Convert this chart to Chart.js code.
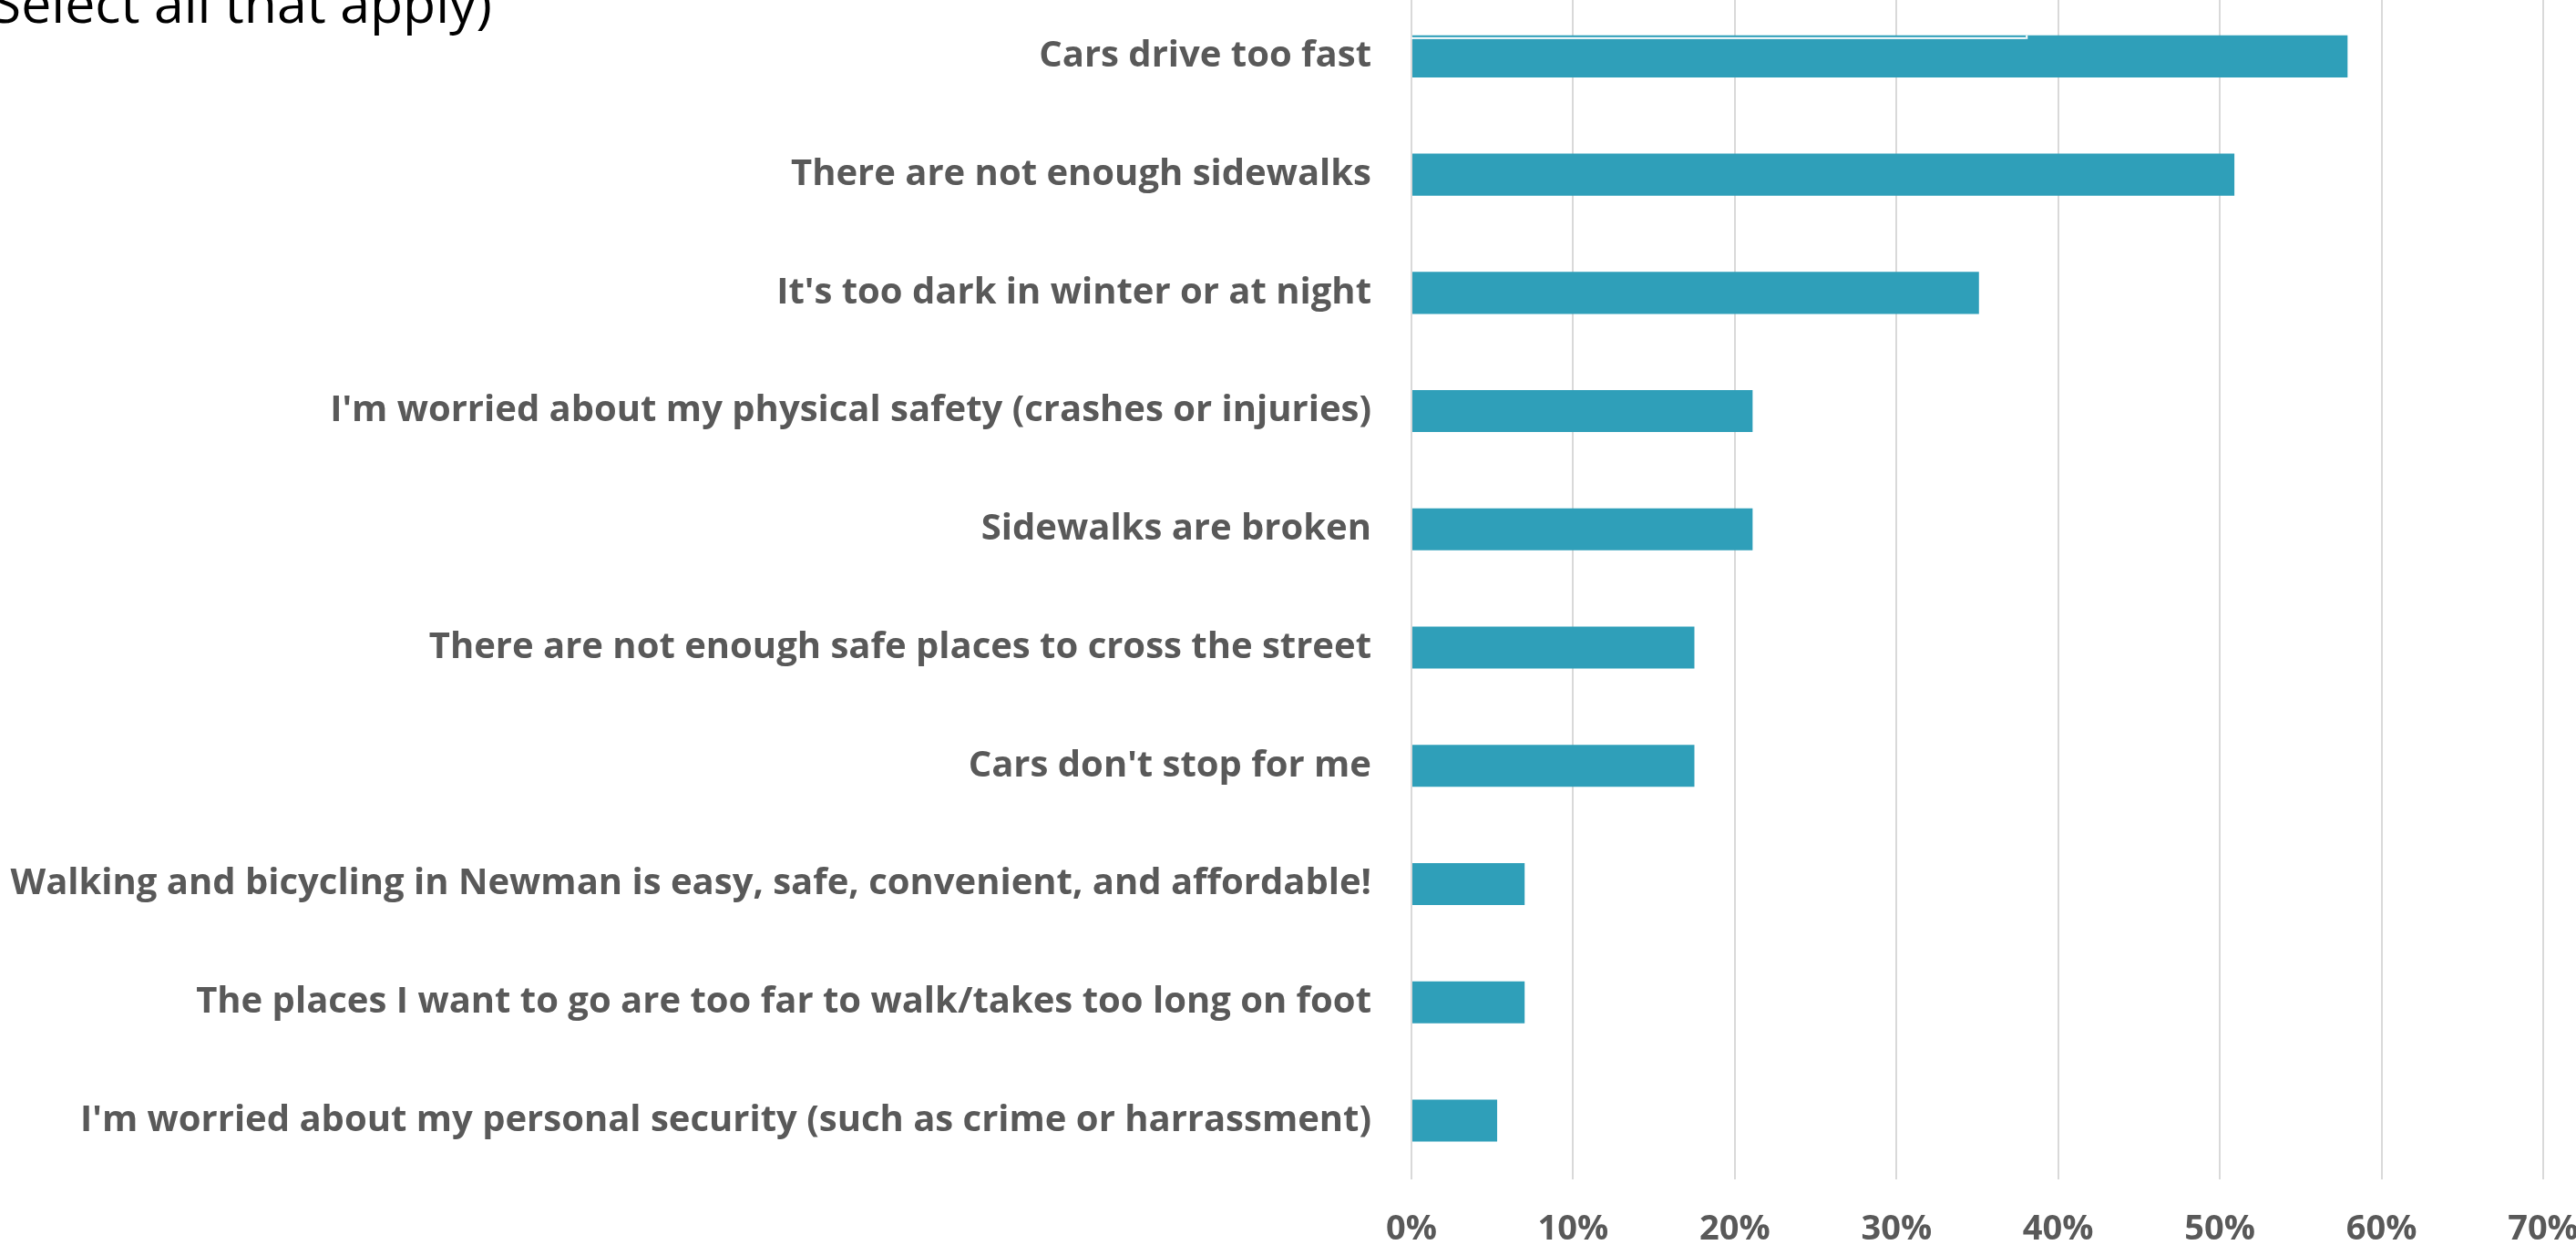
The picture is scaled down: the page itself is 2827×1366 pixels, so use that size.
<!DOCTYPE html>
<html>
<head>
<meta charset="utf-8">
<script src="https://cdn.jsdelivr.net/npm/chart.js@4.4.1/dist/chart.umd.min.js"></script>
<style>
    html, body { margin: 0; padding: 0; background: #fff; overflow: hidden; }
    body { width: 2827px; height: 1366px; position: relative; }
    #chart { position: absolute; left: 0; top: -3px; }
</style>
</head>
<body>
<canvas id="chart" width="2827" height="1375"></canvas>
<script>
// Survey answers, top to bottom
var categories = [
    'Cars drive too fast',
    'There are not enough sidewalks',
    "It's too dark in winter or at night",
    "I'm worried about my physical safety (crashes or injuries)",
    'Sidewalks are broken',
    'There are not enough safe places to cross the street',
    "Cars don't stop for me",
    'Walking and bicycling in Newman is easy, safe, convenient, and affordable!',
    'The places I want to go are too far to walk/takes too long on foot',
    "I'm worried about my personal security (such as crime or harrassment)"
];
var shares = [57.9, 50.9, 35.1, 21.1, 21.1, 17.5, 17.5, 7.0, 7.0, 5.3];
var tickValues = [0, 10, 20, 30, 40, 50, 60, 70];
var titleText = '(Select all that apply)';
// leftover line across the top bar in the original picture
var overlapEnd = 38;

document.addEventListener('DOMContentLoaded', function() {
    var grey = '#595959';
    var teal = '#2f9fb9';

    // clipped title line in the top-left corner
    var titlePlugin = {
        id: 'cutTitle',
        afterDraw: function(chart) {
            var ctx = chart.ctx;
            ctx.save();
            ctx.font = '59px "Open Sans"';
            ctx.fillStyle = '#000';
            ctx.textAlign = 'right';
            ctx.textBaseline = 'alphabetic';
            ctx.fillText(titleText, 540, 28);
            ctx.restore();
        }
    };

    // thin white split along the top of the first bar
    var overlapPlugin = {
        id: 'overlap',
        afterDatasetsDraw: function(chart) {
            var bar = chart.getDatasetMeta(0).data[0];
            var x = chart.scales.x;
            var top = bar.y - bar.height / 2;
            var x0 = x.getPixelForValue(0);
            var x1 = x.getPixelForValue(overlapEnd);
            var ctx = chart.ctx;
            ctx.save();
            ctx.fillStyle = '#fff';
            ctx.fillRect(x0, top + 2, x1 - x0, 2);
            ctx.fillRect(x1, top, 2, 4);
            ctx.restore();
        }
    };

    var ctx = document.getElementById('chart').getContext('2d');
    new Chart(ctx, {
        type: 'bar',
        data: {
            labels: categories,
            datasets: [{
                data: shares,
                backgroundColor: teal,
                borderWidth: 0,
                categoryPercentage: 1,
                barPercentage: 0.355
            }]
        },
        options: {
            indexAxis: 'y',
            responsive: false,
            animation: false,
            devicePixelRatio: 1,
            layout: { padding: 0 },
            plugins: {
                legend: { display: false },
                tooltip: { enabled: false }
            },
            scales: {
                x: {
                    min: 0,
                    max: 70,
                    afterBuildTicks: function(scale) {
                        scale.ticks = tickValues.map(function(v) { return { value: v }; });
                    },
                    afterFit: function(scale) {
                        scale.paddingLeft = 0;
                        scale.paddingRight = 36;
                    },
                    grid: { color: '#d9d9d9', lineWidth: 2, drawTicks: true, tickLength: 32, tickColor: 'rgba(0,0,0,0)' },
                    border: { display: false },
                    ticks: {
                        padding: 0,
                        color: grey,
                        font: { family: '"Open Sans"', size: 38, weight: 'bold' },
                        callback: function(v) { return v + '%'; }
                    }
                },
                y: {
                    afterFit: function(scale) {
                        scale.width = 1549;
                        scale.paddingTop = 0;
                        scale.paddingBottom = 0;
                    },
                    grid: { display: false, drawTicks: true, tickLength: 44 },
                    border: { display: false },
                    ticks: {
                        padding: 0,
                        color: grey,
                        autoSkip: false,
                        font: { family: '"Open Sans"', size: 40, weight: 'bold' }
                    }
                }
            }
        },
        plugins: [titlePlugin, overlapPlugin]
    });
});
</script>
</body>
</html>
